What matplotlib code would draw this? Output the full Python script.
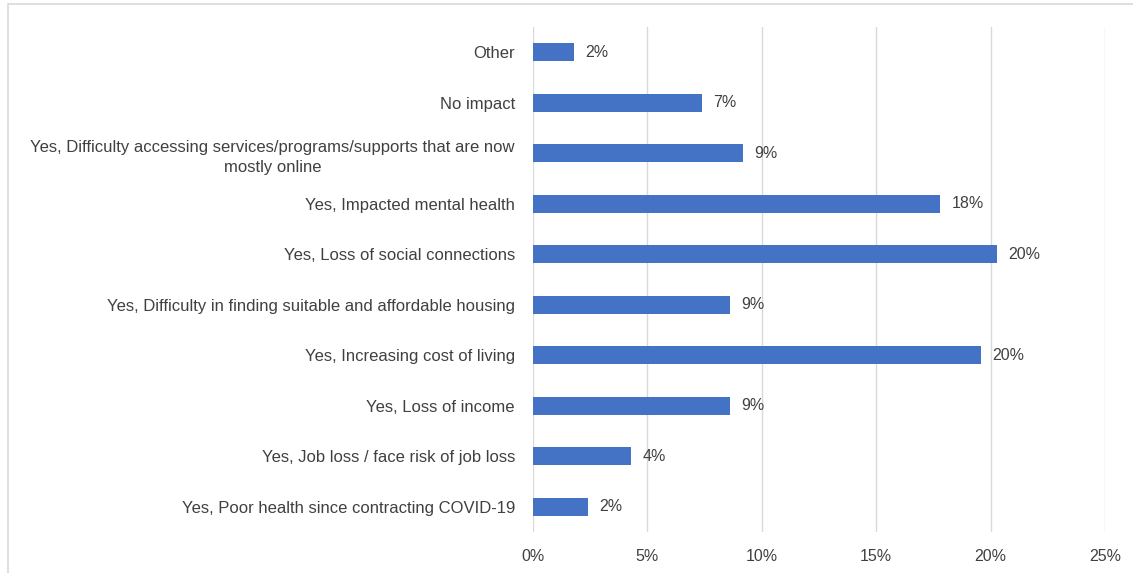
import matplotlib.pyplot as plt
from matplotlib.patches import Rectangle
from matplotlib.ticker import MultipleLocator, FuncFormatter

# survey answers, top to bottom as shown
categories = [
    "Other",
    "No impact",
    "Yes, Difficulty accessing services/programs/supports that are now\nmostly online",
    "Yes, Impacted mental health",
    "Yes, Loss of social connections",
    "Yes, Difficulty in finding suitable and affordable housing",
    "Yes, Increasing cost of living",
    "Yes, Loss of income",
    "Yes, Job loss / face risk of job loss",
    "Yes, Poor health since contracting COVID-19",
]
shares = [1.8, 7.4, 9.2, 17.8, 20.3, 8.6, 19.6, 8.6, 4.3, 2.4]

bar_color = "#4472C4"
text_color = "#404040"
grid_color = "#D9D9D9"

plt.rcParams["font.family"] = ["Liberation Sans", "DejaVu Sans"]

W, H = 1133, 573
fig = plt.figure(figsize=(W / 100, H / 100), dpi=100)
# axes box in pixels: left 533, right 1105, top 27, bottom 532
ax = fig.add_axes([533 / W, 1 - 532 / H, (1105 - 533) / W, (532 - 27) / H])

# light frame around the whole chart
fig.patches.append(Rectangle((8 / W, -0.05), 1.2, 1 - 4 / H + 0.05,
                             transform=fig.transFigure, fill=False,
                             edgecolor="#D9D9D9", linewidth=1.2))

ypos = list(range(len(categories)))
ax.barh(ypos, shares, height=0.36, color=bar_color, zorder=3)
ax.set_ylim(len(categories) - 0.5, -0.5)
ax.set_xlim(0, 25)

for y, v in zip(ypos, shares):
    ax.annotate(f"{v:.0f}%", xy=(v, y), xytext=(8, 0), textcoords="offset points",
                va="center", ha="left", fontsize=11.5, color=text_color, zorder=4)

ax.xaxis.set_major_locator(MultipleLocator(5))
ax.xaxis.set_major_formatter(FuncFormatter(lambda x, _: f"{x:.0f}%"))
ax.grid(axis="x", color=grid_color, linewidth=1, zorder=0)
ax.set_yticks(ypos)
ax.set_yticklabels(categories, multialignment="center", linespacing=1.45)

ax.tick_params(axis="both", length=0, labelcolor=text_color)
ax.tick_params(axis="y", pad=13, labelsize=12)
ax.tick_params(axis="x", pad=12.5, labelsize=11.5)
for s in ax.spines.values():
    s.set_visible(False)

fig.savefig("out.png", dpi=100)
